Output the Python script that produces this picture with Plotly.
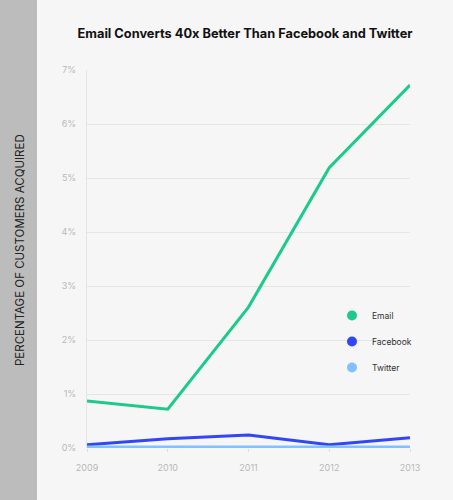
import plotly.graph_objects as go

years = [2009, 2010, 2011, 2012, 2013]
email = [0.87, 0.72, 2.61, 5.19, 6.72]
facebook = [0.06, 0.17, 0.24, 0.06, 0.19]
twitter = [0.02, 0.02, 0.02, 0.02, 0.02]
series_names = ["Email", "Facebook", "Twitter"]
colors = ["#1ec98c", "#3346f6", "#82c0ff"]
y_ticks = [0, 1, 2, 3, 4, 5, 6, 7]
y_tick_labels = ["0%", "1%", "2%", "3%", "4%", "5%", "6%", "7%"]

fig = go.Figure()
for name, vals, col in zip(series_names, [email, facebook, twitter], colors):
    fig.add_trace(go.Scatter(x=years, y=vals, mode="lines", name=name,
                             line=dict(color=col, width=3), showlegend=False,
                             hoverinfo="skip"))
for name, col in zip(series_names, colors):
    fig.add_trace(go.Scatter(x=[None], y=[None], mode="markers", name=name,
                             legendgroup=name,
                             marker=dict(color=col, size=10, symbol="circle")))

W, H = 453, 500
L, R, T, B = 87, 43, 70, 52
pw = W - L - R
ph = H - T - B
fig.update_layout(
    width=W, height=H,
    margin=dict(l=L, r=R, t=T, b=B),
    paper_bgcolor="#f6f6f6", plot_bgcolor="#f6f6f6",
    font=dict(family="Inter", color="#333"),
    title=dict(text="<b>Email Converts 40x Better Than Facebook and Twitter</b>",
               x=(245 - L) / pw, xref="paper", xanchor="center",
               y=1 - 34 / H, yanchor="middle",
               font=dict(size=12.8, color="#111", family="Inter")),
    xaxis=dict(range=[2009, 2013], tickvals=years, showgrid=False,
               zeroline=False, showline=False,
               ticks="outside", ticklen=3, tickcolor="#dcdcdc",
               tickfont=dict(size=9, color="#b8b8b8"), ticklabelstandoff=8),
    yaxis=dict(range=[0, 7], tickvals=y_ticks, ticktext=y_tick_labels,
               gridcolor="#e3e6e6", gridwidth=1, zeroline=False,
               showline=True, linecolor="#e3e6e6", linewidth=1,
               tickfont=dict(size=9, color="#b8b8b8"), ticklabelstandoff=8),
    legend=dict(x=(332 - L) / pw, y=(448 - 301) / ph, xanchor="left",
                yanchor="top", bgcolor="rgba(0,0,0,0)",
                traceorder="grouped", tracegroupgap=7,
                font=dict(size=8.5, color="#333", family="Inter")),
    showlegend=True,
)

fig.add_shape(type="rect", xref="paper", yref="paper",
              x0=-L / pw - 0.05, x1=(37 - L) / pw, y0=-B / ph - 0.1,
              y1=1 + T / ph + 0.1,
              fillcolor="#bcbcbc", line=dict(width=0), layer="below")
fig.add_annotation(text="PERCENTAGE OF CUSTOMERS ACQUIRED", textangle=-90,
                   xref="paper", yref="paper",
                   x=(20 - L) / pw, y=(448 - 250) / ph,
                   showarrow=False, xanchor="center", yanchor="middle",
                   font=dict(size=11.5, color="#222", family="Inter"))

fig.write_html("out.html", config={"displayModeBar": False},
               post_script="document.body.style.margin='0';document.body.style.overflow='hidden';")
